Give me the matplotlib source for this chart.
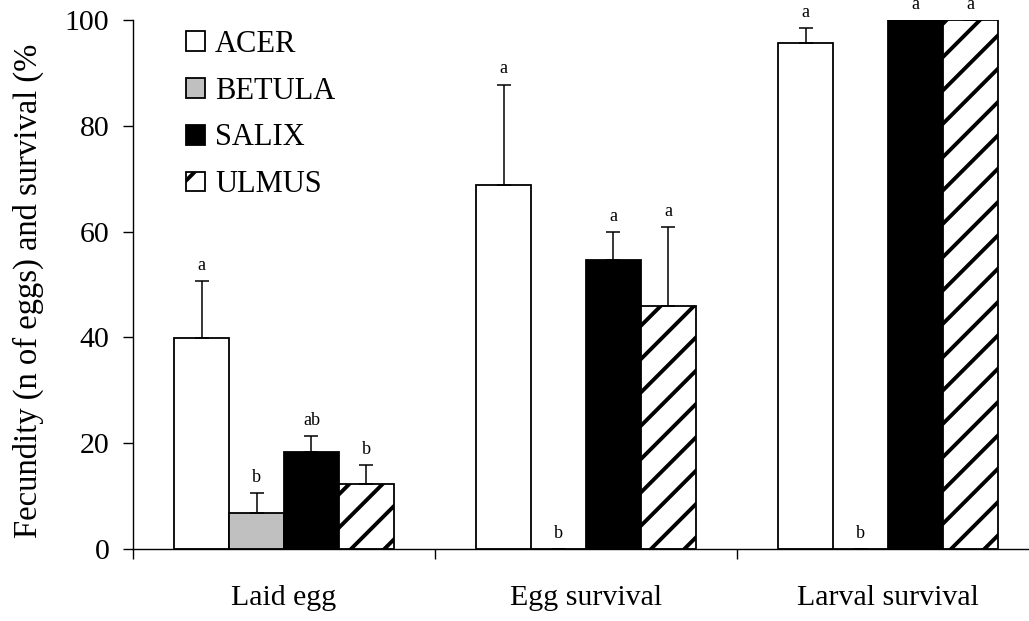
import matplotlib
matplotlib.use("Agg")
import matplotlib.pyplot as plt
from matplotlib.patches import Patch
import numpy as np

plt.rcParams['font.family'] = ['Liberation Serif', 'DejaVu Serif']
plt.rcParams['hatch.linewidth'] = 2.8

groups = ['Laid egg', 'Egg survival', 'Larval survival']
species = ['ACER', 'BETULA', 'SALIX', 'ULMUS']

acer = [39.8, 68.8, 95.6]
acer_err = [10.8, 19.0, 2.9]
betula = [6.8, 0.0, 0.0]
betula_err = [3.8, 0.0, 0.0]
salix = [18.3, 54.6, 100.0]
salix_err = [3.0, 5.3, 0.0]
ulmus = [12.2, 46.0, 100.0]
ulmus_err = [3.6, 14.9, 0.0]

acer_letters = ['a', 'a', 'a']
betula_letters = ['b', 'b', 'b']
salix_letters = ['ab', 'a', 'a']
ulmus_letters = ['b', 'a', 'a']

values = [acer, betula, salix, ulmus]
errors = [acer_err, betula_err, salix_err, ulmus_err]
letters = [acer_letters, betula_letters, salix_letters, ulmus_letters]
faces = ['white', '#c0c0c0', 'black', 'white']
hatches = [None, None, None, '/']

fig = plt.figure(figsize=(10.29, 6.21), dpi=100)
ax = fig.add_axes([133/1029, 72/621, (1039-133)/1029, 529/621])

x = np.arange(len(groups))
w = 0.182
offsets = [-1.5*w, -0.5*w, 0.5*w, 1.5*w]

for vals, errs, lets, fc, h, off in zip(values, errors, letters, faces, hatches, offsets):
    pos = x + off
    ax.bar(pos, vals, width=w, color=fc, edgecolor='black', linewidth=1.3,
           hatch=h, zorder=2)
    ax.errorbar(pos, vals, yerr=[np.zeros(len(vals)), errs], fmt='none',
                ecolor='black', elinewidth=1.1, capsize=5, capthick=1.1, zorder=3)
    for p, v, e, l in zip(pos, vals, errs, lets):
        ax.annotate(l, (p, v + e), xytext=(0, 8), textcoords='offset points',
                    ha='center', va='baseline', fontsize=13, annotation_clip=False)

ax.set_xlim(-0.5, 2.5)
ax.set_ylim(0, 100)
ax.set_yticks([0, 20, 40, 60, 80, 100])
ax.tick_params(axis='y', direction='out', length=7, width=1, labelsize=21.5, pad=10)
ax.set_xticks([-0.5, 0.5, 1.5, 2.5])
ax.set_xticklabels([])
ax.tick_params(axis='x', which='major', direction='out', length=7, width=1)
ax.set_xticks(x, minor=True)
ax.set_xticklabels(groups, minor=True)
ax.tick_params(axis='x', which='minor', length=0, labelsize=21.5, pad=26)

for s in ['top', 'right']:
    ax.spines[s].set_visible(False)
for s in ['left', 'bottom']:
    ax.spines[s].set_linewidth(1)

fig.text(28/1029, 1 - 291/621, 'Fecundity (n of eggs) and survival (%',
         rotation=90, ha='center', va='center', fontsize=23.5)

handles = [Patch(facecolor=fc, edgecolor='black', hatch=h, linewidth=1.3)
           for fc, h in zip(faces, hatches)]
leg = ax.legend(handles, species, loc='upper left',
                bbox_to_anchor=(186/1029, 1 - 30/621), bbox_transform=fig.transFigure,
                frameon=False, fontsize=22, handlelength=0.62, handleheight=0.62,
                handletextpad=0.33, labelspacing=0.58, borderpad=0, borderaxespad=0)

fig.savefig('out.png', dpi=100)
